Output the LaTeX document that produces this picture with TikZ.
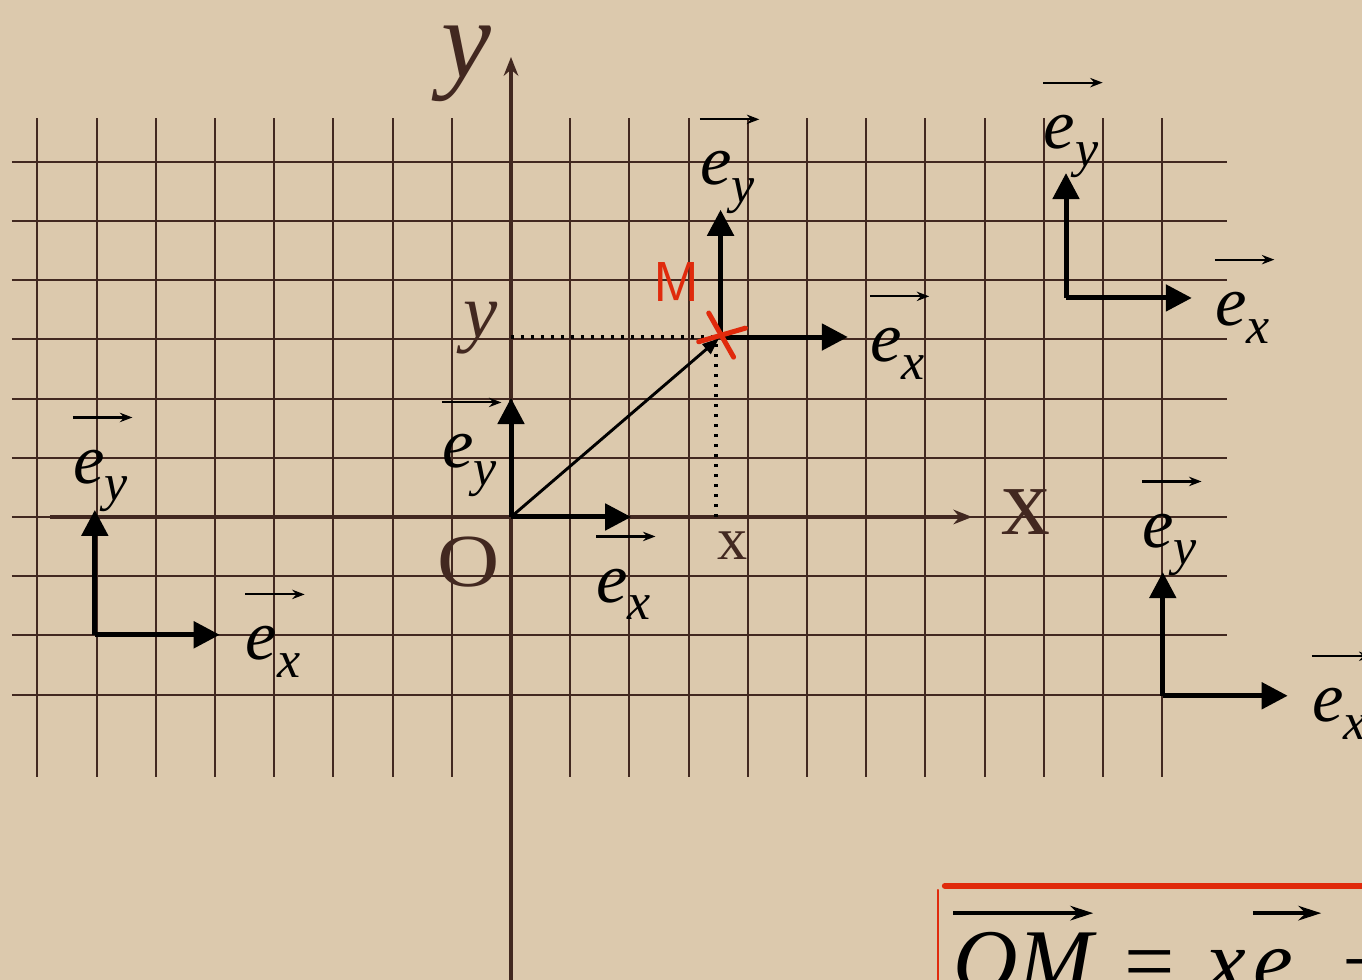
\documentclass[tikz,border=0pt]{standalone}
\usepackage{fontspec}
\setmainfont{Liberation Serif}
\usetikzlibrary{arrows.meta,positioning,calc}

\definecolor{paper}{RGB}{220,201,173}
\definecolor{ink}{RGB}{66,40,32}
\definecolor{redmark}{RGB}{224,42,12}

\newcommand{\esub}[1]{e\raisebox{-8.6pt}{\fontsize{25}{25}\selectfont #1}}
\newcommand{\fsub}[1]{e\raisebox{-10pt}{\fontsize{30}{30}\selectfont #1}}

\begin{document}
\begin{tikzpicture}[
  gridline/.style={draw=ink, line width=1pt},
  axis/.style={draw=ink, line width=1.6pt, -{Stealth[length=9pt,width=7pt]}},
  basis/.style={draw=black, line width=2.4pt, -{Triangle[length=12.5pt,width=12.5pt]}},
  omvec/.style={draw=black, line width=1.4pt, -{Triangle[length=8pt,width=6pt]}},
  dotline/.style={draw=black, line width=1.6pt, dash pattern=on 1.6pt off 3.2pt},
  elab/.style={inner sep=0pt, anchor=base west, font=\fontsize{34}{40}\selectfont\itshape},
  barrow/.style={draw=black, line width=1pt, -{Stealth[length=6pt,width=4.5pt]}},
  fbar/.style={draw=black, line width=1.8pt, -{Stealth[length=11pt,width=7pt]}},
  hand/.style={inner sep=0pt, text=ink},
  formula/.style={inner sep=0pt, anchor=base west, font=\fontsize{43}{50}\selectfont},
  redline/.style={draw=redmark, line cap=round}
]
  % paper
  \useasboundingbox (-8.632,-7.821) rectangle (14.375,8.733);
  \clip (-8.632,-7.821) rectangle (14.375,8.733);
  \fill[paper] (-8.632,-7.821) rectangle (14.375,8.733);

  % squared paper
  \foreach \i in {-8,...,11}
    \draw[gridline] (\i,-4.39) -- (\i,6.74);
  \foreach \j in {-3,...,6}
    \draw[gridline] (-8.43,\j) -- (12.09,\j);

  \coordinate (O) at (0,0);
  \coordinate (M) at (3.54,3.04);
  \coordinate (Mx) at (3.46,0);
  \coordinate (My) at (0,3.04);
  \coordinate (xs) at (-7.79,0);
  \coordinate (xe) at (7.79,0);
  \coordinate (ys) at (0,-7.9);
  \coordinate (ye) at (0,7.77);

  % axes
  \draw[axis] (xs) -- (xe);
  \draw[axis] (ys) -- (ye);

  % projections of M
  \draw[dotline] (My) -- (M);
  \draw[dotline] (Mx) -- (Mx |- M);
  \draw[omvec, shorten >=1pt] (O) -- (M);

  % basis vectors, moved around the plane
  \coordinate (L) at (-7.03,-1.99);
  \coordinate (T) at (9.375,3.70);
  \coordinate (B) at (11.01,-3.02);
  \draw[basis] (O) -- (2.03,0);
  \draw[basis] (O) -- (0,2.01);
  \draw[basis] (M) -- (5.69,3.04);
  \draw[basis] (M) -- (3.54,5.19);
  \draw[basis] (L) -- (-4.92,-1.99);
  \draw[basis] (L) -- (-7.03,0.12);
  \draw[basis] (T) -- (11.5,3.70);
  \draw[basis] (T) -- (9.375,5.81);
  \draw[basis] (B) -- (13.12,-3.02);
  \draw[basis] (B) -- (11.01,-0.93);

  % red cross on M
  \draw[redline, line width=2.4pt] ($(M)+(-0.37,-0.08)$) -- ($(M)+(0.42,0.15)$);
  \draw[redline, line width=2.4pt] ($(M)+(-0.2,0.405)$) -- ($(M)+(0.22,-0.34)$);
  \node[hand, text=redmark, font=\fontsize{27}{30}\selectfont\sffamily] (mlab) at (2.79,3.97) {M};

  % labels e_x, e_y
  \foreach \n/\x/\y/\s in {oex/1.436/-1.436/x, oey/-1.166/0.828/y,
      mey/3.19/5.61/y, mex/6.06/2.62/x, tey/8.99/6.23/y, tex/11.89/3.24/x,
      ley/-7.40/0.574/y, lex/-4.49/-2.415/x, bey/10.66/-0.507/y, bex/13.53/-3.46/x} {
    \node[elab] (\n) at (\x,\y) {\esub{\s}};
    \draw[barrow] ([yshift=31.5pt]\n.base west) -- ([xshift=2pt,yshift=31.5pt]\n.base east);
  }

  % hand written names
  \node[hand, font=\fontsize{54}{58}\selectfont\itshape] (ylab) at (-0.76,7.66) {y};
  \node[hand, font=\fontsize{37}{40}\selectfont\itshape] (yval) at (-0.52,3.19) {y};
  \node[hand, font=\fontsize{36}{40}\selectfont, xscale=1.15] (olab) at (-0.71,-0.76) {O};
  \node[hand, font=\fontsize{29}{32}\selectfont] (xval) at (3.74,-0.49) {x};
  \node[hand, font=\fontsize{47}{50}\selectfont] (xlab) at (8.70,0.08) {x};

  % boxed relation
  \draw[redline, line width=3pt] (7.33,-6.23) -- (14.6,-6.23);
  \draw[redline, line width=0.9pt] (7.21,-6.30) -- (7.21,-7.95);
  \node[formula] (om) at (7.47,-8.01) {\itshape OM};
  \node[formula, right=15pt of om.base east, anchor=base west] (eqx) {=\hspace{0.35em}\itshape x};
  \node[formula, right=3pt of eqx.base east, anchor=base west] (fex) {\itshape\fsub{x}};
  \node[formula, right=10pt of fex.base east, anchor=base west] (plus) {+\hspace{0.3em}\itshape y};
  \node[formula, right=3pt of plus.base east, anchor=base west] (fey) {\itshape\fsub{y}};
  \draw[fbar] ([yshift=37.5pt]om.base west) -- ([yshift=37.5pt]om.base east);
  \draw[fbar] ([yshift=37.5pt]fex.base west) -- ([yshift=37.5pt]fex.base east);
  \draw[fbar] ([yshift=37.5pt]fey.base west) -- ([yshift=37.5pt]fey.base east);
\end{tikzpicture}
\end{document}
